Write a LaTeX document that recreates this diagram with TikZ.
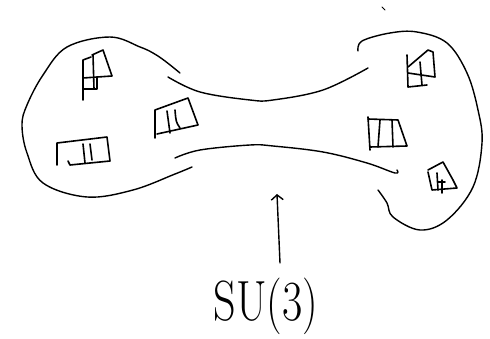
\documentclass[tikz,border=0pt]{standalone}
\usetikzlibrary{arrows.meta}
\begin{document}
\begin{tikzpicture}[x=1pt,y=-1pt,
  ink/.style={line width=1.4pt,line cap=round,line join=round,black},
  tab/.style={line width=1.6pt,line cap=round,line join=round,black}]
\useasboundingbox (0,0) rectangle (490,339);
% left blob
\draw[ink] plot[smooth,tension=0.6] coordinates {(180,73) (165,61) (153,53) (140,47) (110,37) (67,47) (43,75) (27,105) (22,125) (27,153) (43,183) (87,197) (133,190) (175,174) (192,167)};
% neck
\draw[ink] plot[smooth,tension=0.6] coordinates {(168,77) (200,92) (250,100) (273,100) (323,90) (368,68)};
\draw[ink] plot[smooth,tension=0.6] coordinates {(175,158) (200,150) (250,145) (273,146) (323,152) (367,163) (395,173) (397,170)};
% right blob
\draw[ink] plot[smooth,tension=0.6] coordinates {(358,51) (362,41) (390,33) (417,32) (447,43) (467,73) (478,110) (482,143) (473,187) (447,220) (420,230) (393,217) (387,203) (378,190)};
% tiny mark
\draw[ink,line width=1pt] (382,7) -- (385,10);
% tableaux left
\draw[tab] (83,100) -- (83,60) -- (91,57);
\draw[tab] (92,55) -- (103,50) -- (112,76) -- (83,78);
\draw[tab] (93,55) -- (94,89);
\draw[tab] (83,89) -- (97,89) -- (97,77);
\draw[tab] (155,138) -- (155,110) -- (188,98) -- (198,125) -- (157,134);
\draw[tab] (167,111) -- (170,133);
\draw[tab] (175,110) .. controls (176,122) .. (180,128);
\draw[tab] (57,165) -- (57,143) -- (107,137) -- (110,161) -- (70,165) -- (68,161);
\draw[tab] (83,144) -- (85,163);
\draw[tab] (90,144) -- (92,160);
% tableaux right
\draw[tab] (407,55) -- (408,87) -- (427,85);
\draw[tab] (408,67) -- (428,50) -- (433,52) -- (435,77) -- (408,73);
\draw[tab] (420,62) -- (422,85);
\draw[tab] (368,117) -- (370,150);
\draw[tab] (368,119) -- (398,120) -- (407,146) -- (370,147);
\draw[tab] (380,120) -- (378,147);
\draw[tab] (392,120) -- (393,147);
\draw[tab] (428,172) -- (432,190) -- (457,188) -- (453,180) -- (443,162) -- (428,170);
\draw[tab] (437,173) -- (438,190);
\draw[tab] (442,180) -- (442,193);
\draw[tab] (438,182) -- (445,182);
% label and arrow
\node[inner sep=0pt] (lbl) at (266,306) {\scalebox{1.05}[1.35]{\fontsize{42}{42}\selectfont SU(3)}};
\coordinate (tip) at (277,194);
\draw[ink,-{Straight Barb[length=5pt,width=12pt]}] (280,263) -- (tip);
\end{tikzpicture}
\end{document}
